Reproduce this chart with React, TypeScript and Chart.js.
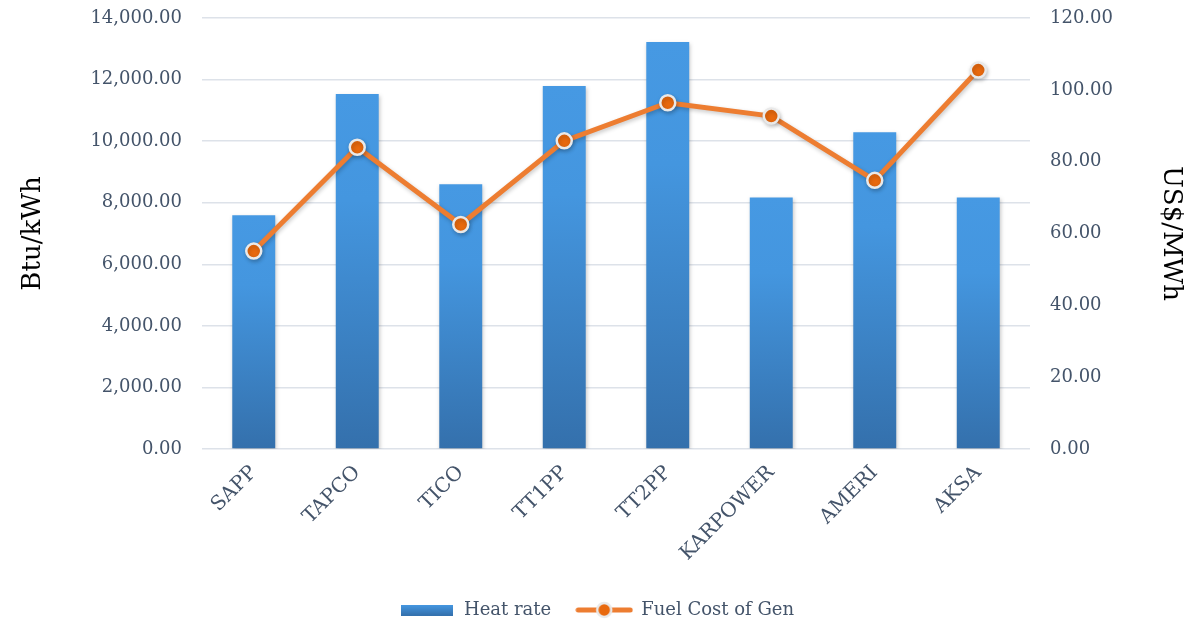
import React, { useEffect, useRef } from "react";
import { Chart, registerables } from "chart.js";

Chart.register(...registerables);

const categories = ["SAPP", "TAPCO", "TICO", "TT1PP", "TT2PP", "KARPOWER", "AMERI", "AKSA"];
const heatRate = [7590, 11530, 8600, 11790, 13220, 8170, 10290, 8170];
const fuelCost = [55.1, 84.0, 62.5, 85.8, 96.4, 92.7, 74.8, 105.5];
const seriesNames = ["Heat rate", "Fuel Cost of Gen"];
const axisTitles = ["Btu/kWh", "US$/MWh"];
const leftAxisMax = 14000;
const leftAxisStep = 2000;
const rightAxisMax = 120;
const rightAxisStep = 20;

const FONT = "'DejaVu Serif', 'Liberation Serif', serif";
const TICK_COLOR = "#44546A";
const GRID_COLOR = "#DDE2E9";
const BAR_TOP = "#4699E3";
const BAR_BOTTOM = "#3470AC";
const LINE_COLOR = "#ED7D31";

const fmt = (v: number) =>
  Number(v).toLocaleString("en-US", { minimumFractionDigits: 2, maximumFractionDigits: 2 });

function makeBarIcon() {
  const c = document.createElement("canvas");
  c.width = 52;
  c.height = 11;
  const g = c.getContext("2d")!;
  const grad = g.createLinearGradient(0, 0, 0, 11);
  grad.addColorStop(0, BAR_TOP);
  grad.addColorStop(1, BAR_BOTTOM);
  g.fillStyle = grad;
  g.fillRect(0, 0, 52, 11);
  return c;
}

function makeLineIcon() {
  const c = document.createElement("canvas");
  c.width = 58;
  c.height = 20;
  const g = c.getContext("2d")!;
  g.strokeStyle = LINE_COLOR;
  g.lineWidth = 5;
  g.lineCap = "round";
  g.beginPath();
  g.moveTo(3, 10);
  g.lineTo(55, 10);
  g.stroke();
  g.beginPath();
  g.arc(29, 10, 7, 0, Math.PI * 2);
  g.fillStyle = "#E8690E";
  g.fill();
  g.lineWidth = 2.5;
  g.strokeStyle = "#E9E9E9";
  g.stroke();
  return c;
}

const shadowPlugin = {
  id: "softShadow",
  beforeDatasetDraw(chart: any) {
    const ctx = chart.ctx;
    ctx.save();
    ctx.shadowColor = "rgba(0,0,0,0.22)";
    ctx.shadowBlur = 4;
    ctx.shadowOffsetX = 1;
    ctx.shadowOffsetY = 2;
  },
  afterDatasetDraw(chart: any) {
    chart.ctx.restore();
  },
};

export default function App() {
  const canvasRef = useRef<HTMLCanvasElement | null>(null);

  useEffect(() => {
    const canvas = canvasRef.current;
    if (!canvas) return;
    const barIcon = makeBarIcon();
    const lineIcon = makeLineIcon();

    const chart = new Chart(canvas, {
      type: "bar",
      data: {
        labels: categories,
        datasets: [
          {
            type: "bar",
            label: seriesNames[0],
            data: heatRate,
            yAxisID: "y",
            order: 1,
            categoryPercentage: 0.415,
            barPercentage: 1,
            borderWidth: 0,
            backgroundColor: (ctx: any) => {
              const chart = ctx.chart;
              const y = chart.scales?.y;
              if (!chart.chartArea || !y || ctx.raw == null) return BAR_TOP;
              const top = y.getPixelForValue(ctx.raw);
              const bottom = y.getPixelForValue(0);
              if (!isFinite(top) || !isFinite(bottom) || top === bottom) return BAR_TOP;
              const g = chart.ctx.createLinearGradient(0, top, 0, bottom);
              g.addColorStop(0, BAR_TOP);
              g.addColorStop(0.3, "#4496DF");
              g.addColorStop(1, BAR_BOTTOM);
              return g;
            },
          } as any,
          {
            type: "line",
            label: seriesNames[1],
            data: fuelCost,
            yAxisID: "y1",
            order: 0,
            borderColor: LINE_COLOR,
            borderWidth: 5,
            pointRadius: 7.5,
            pointBorderWidth: 2.5,
            pointBackgroundColor: "#E8690E",
            pointBorderColor: "#E9E9E9",
            pointHoverRadius: 7.5,
            tension: 0,
          } as any,
        ],
      },
      options: {
        animation: false,
        responsive: true,
        maintainAspectRatio: false,
        events: [],
        layout: { padding: { top: 18, left: 0, right: 0, bottom: 0 } },
        plugins: {
          tooltip: { enabled: false },
          legend: {
            display: true,
            position: "bottom",
            labels: {
              usePointStyle: true,
              pointStyleWidth: 56,
              padding: 25,
              color: TICK_COLOR,
              font: { family: FONT, size: 18 },
              sort: (a: any, b: any) => a.datasetIndex - b.datasetIndex,
              generateLabels: (ch: any) => {
                const items = Chart.defaults.plugins.legend.labels.generateLabels(ch);
                items.forEach((it: any) => {
                  it.pointStyle = it.datasetIndex === 0 ? barIcon : lineIcon;
                });
                return items;
              },
            },
          },
        },
        scales: {
          x: {
            grid: { display: false, drawTicks: false },
            border: { display: false },
            ticks: {
              color: TICK_COLOR,
              font: { family: FONT, size: 20 },
              minRotation: 45,
              maxRotation: 45,
              padding: 12,
              autoSkip: false,
            },
            afterFit: (scale: any) => {
              scale.height = 127;
            },
          },
          y: {
            position: "left",
            min: 0,
            max: leftAxisMax,
            grid: { color: GRID_COLOR, lineWidth: 1.5, drawTicks: false },
            border: { display: false },
            ticks: {
              stepSize: leftAxisStep,
              color: TICK_COLOR,
              padding: 20,
              font: { family: FONT, size: 18 },
              callback: (v: any) => fmt(v),
            },
            title: {
              display: true,
              text: axisTitles[0],
              color: "#000000",
              font: { family: FONT, size: 26 },
              padding: { top: 18, bottom: 0 },
            },
            afterFit: (scale: any) => {
              scale.width = 202;
              scale.paddingTop = 0;
            },
          },
          y1: {
            position: "right",
            min: 0,
            max: rightAxisMax,
            grid: { drawOnChartArea: false, drawTicks: false },
            border: { display: false },
            ticks: {
              stepSize: rightAxisStep,
              color: TICK_COLOR,
              padding: 20,
              font: { family: FONT, size: 18 },
              callback: (v: any) => fmt(v),
            },
            title: {
              display: true,
              text: axisTitles[1],
              color: "#000000",
              font: { family: FONT, size: 26 },
              padding: { top: 7, bottom: 0 },
            },
            afterFit: (scale: any) => {
              scale.width = 163;
              scale.paddingTop = 0;
            },
          },
        },
      },
      plugins: [shadowPlugin],
    } as any);

    return () => chart.destroy();
  }, []);

  return (
    <div
      style={{
        position: "fixed",
        left: 0,
        top: 0,
        width: 1193,
        height: 629,
        background: "#ffffff",
      }}
    >
      <canvas ref={canvasRef} />
    </div>
  );
}
